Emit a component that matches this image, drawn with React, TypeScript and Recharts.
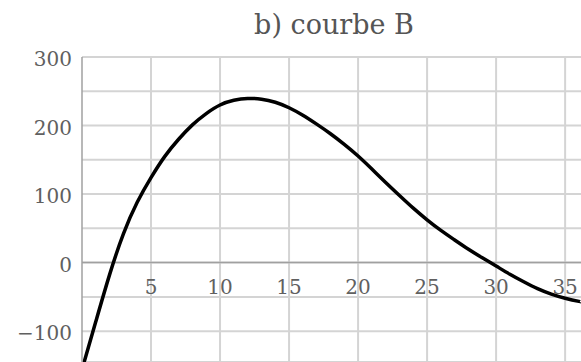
import React from "react";
import {
  LineChart,
  Line,
  XAxis,
  YAxis,
  CartesianGrid,
  ReferenceLine,
  ReferenceDot,
} from "recharts";

// values
const xValues = [
  0, 1, 2, 3, 4, 5, 6, 7, 8, 9, 10, 11, 12, 13, 14, 15, 16, 17, 18, 19, 20, 21,
  22, 23, 24, 25, 26, 27, 28, 29, 30, 31, 32, 33, 34, 35, 36, 36.2,
];
const yValues = [
  -156, -86, -17.5, 42, 88, 124, 155, 180, 201, 217.5, 230, 236.8, 239.5,
  238.5, 234, 226, 215, 202, 188, 172.5, 155.5, 136.5, 117, 98, 79.5, 62.5, 47,
  33, 19.5, 7, -5, -17, -28, -38, -46, -52, -56.5, -57,
];

const xTicks = [5, 10, 15, 20, 25, 30, 35];
const yLabels = [-100, 0, 100, 200, 300];
const yGrid = [-100, -50, 0, 50, 100, 150, 200, 250, 300];

const title = "b) courbe B";

const data = xValues.map((x, i) => ({ x, y: yValues[i] }));

const FONT = "'DejaVu Serif', serif";
const LABEL = "#606060";
const GRID = "#d4d4d4";
const AXIS = "#a0a0a0";

// only every other grid value gets a label; negative values use a real minus
const fmt = (v: number) =>
  yLabels.includes(v) ? (v < 0 ? "\u2212" + Math.abs(v) : String(v)) : "";

export default function App() {
  return (
    <div
      style={{
        position: "absolute",
        left: 0,
        top: 0,
        width: 581,
        height: 362,
        background: "#fff",
      }}
    >
      <svg
        width={581}
        height={50}
        style={{ position: "absolute", left: 0, top: 0 }}
      >
        <text
          x={334}
          y={34}
          textAnchor="middle"
          fontFamily={FONT}
          fontSize={27}
          fill="#555"
        >
          {title}
        </text>
      </svg>
      <LineChart
        width={581}
        height={362}
        data={data}
        margin={{ top: 57, right: 0, bottom: 0, left: 22 }}
        style={{ position: "absolute", left: 0, top: 0 }}
      >
        <CartesianGrid stroke={GRID} strokeWidth={2} vertical={false} />
        <XAxis
          dataKey="x"
          type="number"
          domain={[0, 36.15]}
          allowDataOverflow
          hide
        />
        <YAxis
          type="number"
          domain={[-145, 300]}
          allowDataOverflow
          ticks={yGrid}
          interval={0}
          tickFormatter={fmt}
          width={60}
          tickLine={false}
          tickMargin={4}
          axisLine={{ stroke: AXIS, strokeWidth: 1.5 }}
          tick={{ fill: LABEL, fontSize: 20, fontFamily: FONT, dy: 2 }}
        />
        {xTicks.map((t) => (
          <ReferenceLine key={"g" + t} x={t} stroke={GRID} strokeWidth={2} />
        ))}
        <ReferenceLine y={0} stroke={AXIS} strokeWidth={1.5} />
        {xTicks.map((t) => (
          <ReferenceDot
            key={t}
            x={t}
            y={0}
            r={0}
            fill="none"
            stroke="none"
            label={{
              value: String(t),
              position: "bottom",
              offset: 17,
              fill: LABEL,
              fontSize: 20,
              fontFamily: FONT,
            }}
          />
        ))}
        <Line
          type="natural"
          dataKey="y"
          stroke="#000"
          strokeWidth={3.5}
          dot={false}
          isAnimationActive={false}
        />
      </LineChart>
    </div>
  );
}
